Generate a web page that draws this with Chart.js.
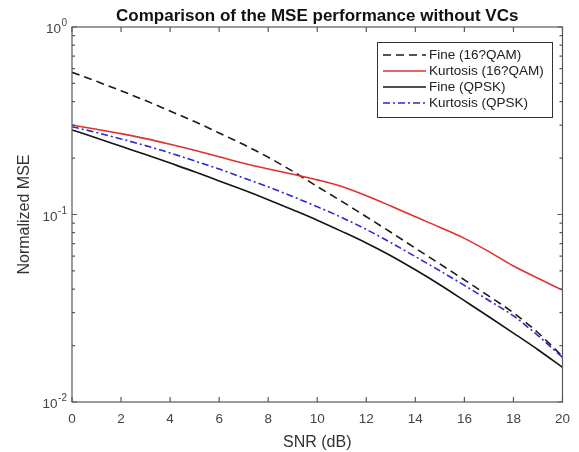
<!DOCTYPE html>
<html><head><meta charset="utf-8">
<script src="https://cdn.jsdelivr.net/npm/chart.js@4.4.1/dist/chart.umd.min.js"></script>
<style>html,body{margin:0;padding:0;background:#fff;}#wrap{width:579px;height:452px;position:relative;}</style>
</head><body><div id="wrap"><canvas id="c" width="579" height="452"></canvas></div>
<script>
// ---- data ----
const titleText = 'Comparison of the MSE performance without VCs';
const xLabel = 'SNR (dB)';
const yLabel = 'Normalized MSE';
const seriesNames = ['Fine (16?QAM)', 'Kurtosis (16?QAM)', 'Fine (QPSK)', 'Kurtosis (QPSK)'];
const snr = [0,1,2,3,4,5,6,7,8,9,10,11,12,13,14,15,16,17,18,19,20];
const fine16QAM = [0.573,0.513,0.457,0.405,0.356,0.313,0.272,0.236,0.202,0.170,0.141,0.1175,0.0973,0.0804,0.0661,0.0545,0.0448,0.0367,0.0299,0.0234,0.0175];
const kurtosis16QAM = [0.300,0.285,0.270,0.254,0.237,0.220,0.203,0.1875,0.175,0.164,0.153,0.141,0.126,0.111,0.0973,0.0855,0.0746,0.0634,0.0531,0.0457,0.0395];
const fineQPSK = [0.2825,0.256,0.231,0.209,0.188,0.169,0.151,0.135,0.120,0.106,0.0933,0.0813,0.0705,0.0603,0.0507,0.0422,0.0347,0.0285,0.0233,0.0190,0.0153];
const kurtosisQPSK = [0.294,0.2735,0.253,0.233,0.213,0.193,0.1746,0.1567,0.1403,0.1247,0.110,0.0964,0.0832,0.0708,0.0596,0.0501,0.0419,0.0348,0.0288,0.0226,0.0173];
const xTicks = [0,2,4,6,8,10,12,14,16,18,20];
const yMajorTicks = [0.01, 0.1, 1];
const yTickBase = '10';
const yTickExponents = ['-2', '-1', '0'];

// ---- styles ----
const seriesValues = [fine16QAM, kurtosis16QAM, fineQPSK, kurtosisQPSK];
const seriesColors = ['#1a1a1a', '#e0302f', '#141414', '#2a2ad0'];
const seriesDash = [[8,5], [], [], [7,3,2,3]];
const FONT = '"Liberation Sans", Arial, Helvetica, sans-serif';

const yMinor = [];
for (let e = -2; e < 0; e++) for (let m = 1; m < 10; m++) yMinor.push(+(m * Math.pow(10, e)).toPrecision(3));
yMinor.push(1);

const datasets = seriesNames.map((name, i) => ({
  label: name,
  data: snr.map((s, k) => ({x: s, y: seriesValues[i][k]})),
  borderColor: seriesColors[i],
  backgroundColor: seriesColors[i],
  borderDash: seriesDash[i],
  borderWidth: 1.6,
  pointRadius: 0,
  fill: false,
  cubicInterpolationMode: 'monotone',
  order: 4 - i
}));

const decor = {
  id: 'decor',
  afterDraw(chart) {
    const {ctx, chartArea: a, scales: {x, y}} = chart;
    ctx.save();
    ctx.strokeStyle = '#5a5a5a';
    ctx.lineWidth = 1.2;
    ctx.setLineDash([]);
    ctx.strokeRect(a.left, a.top, a.right - a.left, a.bottom - a.top);
    ctx.beginPath();
    xTicks.forEach(v => {
      const px = x.getPixelForValue(v);
      ctx.moveTo(px, a.bottom); ctx.lineTo(px, a.bottom - 5);
      ctx.moveTo(px, a.top); ctx.lineTo(px, a.top + 5);
    });
    yMinor.forEach(v => {
      const py = y.getPixelForValue(v);
      const len = yMajorTicks.includes(v) ? 5 : 3;
      ctx.moveTo(a.left, py); ctx.lineTo(a.left + len, py);
      ctx.moveTo(a.right, py); ctx.lineTo(a.right - len, py);
    });
    ctx.stroke();

    // y tick labels: 10 with superscript exponent
    ctx.fillStyle = '#444';
    ctx.textBaseline = 'alphabetic';
    yMajorTicks.forEach((v, k) => {
      const py = y.getPixelForValue(v);
      const rightEdge = a.left - 5;
      ctx.font = '10px ' + FONT;
      const ew = ctx.measureText(yTickExponents[k]).width;
      ctx.textAlign = 'left';
      ctx.fillText(yTickExponents[k], rightEdge - ew, py - 1);
      ctx.font = '13.5px ' + FONT;
      ctx.textAlign = 'right';
      ctx.fillText(yTickBase, rightEdge - ew - 0.5, py + 6);
    });

    // title
    ctx.fillStyle = '#111';
    ctx.font = 'bold 17px ' + FONT;
    ctx.textAlign = 'center';
    ctx.textBaseline = 'alphabetic';
    ctx.fillText(titleText, (a.left + a.right) / 2, 21);

    // legend
    const bx = 377, by = 42, bw = 175, bh = 75;
    ctx.fillStyle = '#fff';
    ctx.fillRect(bx, by, bw, bh);
    ctx.strokeStyle = '#333';
    ctx.lineWidth = 1;
    ctx.strokeRect(bx + 0.5, by + 0.5, bw, bh);
    ctx.font = '13.5px ' + FONT;
    ctx.textAlign = 'left';
    ctx.textBaseline = 'middle';
    chart.data.datasets.forEach((ds, i) => {
      const ry = by + 13 + i * 16;
      ctx.beginPath();
      ctx.strokeStyle = ds.borderColor;
      ctx.lineWidth = ds.borderWidth;
      ctx.setLineDash(ds.borderDash);
      ctx.moveTo(bx + 6, ry); ctx.lineTo(bx + 49, ry);
      ctx.stroke();
      ctx.setLineDash([]);
      ctx.fillStyle = '#222';
      ctx.fillText(ds.label, bx + 52, ry + 0.5);
    });
    ctx.restore();
  }
};

new Chart(document.getElementById('c'), {
  type: 'line',
  data: {datasets},
  options: {
    responsive: false,
    animation: false,
    devicePixelRatio: 1,
    layout: {padding: {top: 27, right: 14, left: 0, bottom: 0}},
    plugins: {legend: {display: false}, tooltip: {enabled: false}, title: {display: false}},
    scales: {
      x: {
        type: 'linear', min: 0, max: 20,
        afterBuildTicks: s => { s.ticks = xTicks.map(v => ({value: v})); },
        afterFit: s => { s.height = 50; },
        grid: {display: false, drawTicks: false, tickLength: 0},
        border: {display: false},
        ticks: {autoSkip: false, maxRotation: 0, padding: 9, color: '#444', font: {family: FONT, size: 13.5}},
        title: {display: true, text: xLabel, color: '#333', font: {family: FONT, size: 16}, padding: {top: 0, bottom: 0}}
      },
      y: {
        type: 'logarithmic', min: 0.01, max: 1,
        afterBuildTicks: s => { s.ticks = yMajorTicks.map(v => ({value: v})); },
        afterFit: s => { s.width = 72; },
        grid: {display: false, drawTicks: false, tickLength: 0},
        border: {display: false},
        ticks: {display: false},
        title: {display: true, text: yLabel, color: '#333', font: {family: FONT, size: 16}, padding: {top: 15, bottom: 0}}
      }
    }
  },
  plugins: [decor]
});
</script></body></html>
